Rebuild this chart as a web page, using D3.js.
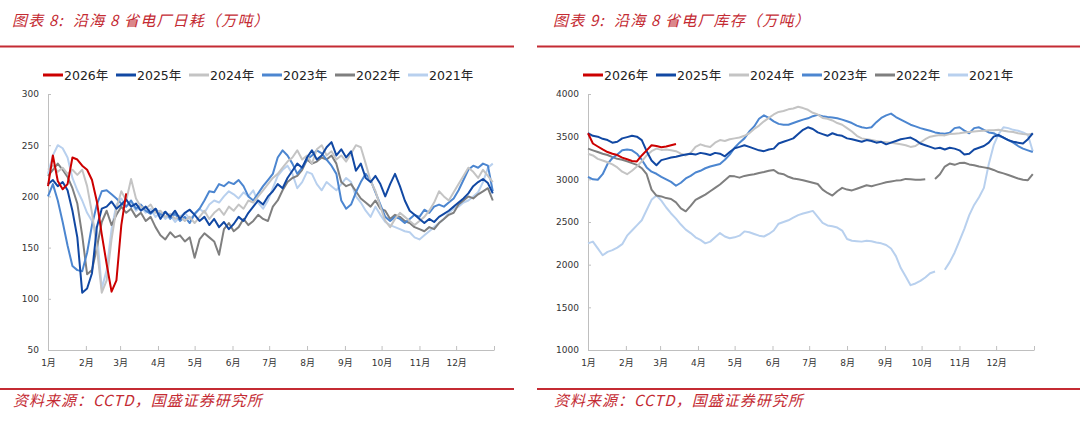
<!DOCTYPE html>
<html><head><meta charset="utf-8">
<script src="https://cdn.jsdelivr.net/npm/d3@7"></script>
<style>body{margin:0;background:#fff;}svg{display:block}</style>
</head><body>
<svg id="chart" width="1080" height="422"></svg>
<script>
// ---------------- DATA ----------------
const monthLabels = ["1月","2月","3月","4月","5月","6月","7月","8月","9月","10月","11月","12月"];
const seriesNames = ["2026年","2025年","2024年","2023年","2022年","2021年"];
const stepDays = 4; // one value every 4 days from 1 Jan
const leftTitle = "图表 8:  沿海 8 省电厂日耗（万吨）";
const rightTitle = "图表 9:  沿海 8 省电厂库存（万吨）";
const sourceText = "资料来源：CCTD，国盛证券研究所";
const leftTicks = [50,100,150,200,250,300];
const rightTicks = [1000,1500,2000,2500,3000,3500,4000];

// 日耗 (万吨)
const consume2026 = [210,240,215,207,212,238,236,230,226,216,195,163,134,107,118,172,203];
const consume2025 = [212,216,210,214,206,186,160,106,110,125,
  170,188,190,195,188,192,197,190,193,186,
  190,184,188,178,185,180,186,178,184,187,
  182,176,180,172,178,170,175,168,173,180,
  176,184,190,196,192,200,205,212,208,218,
  225,232,228,238,245,236,240,248,253,240,
  246,238,244,225,232,218,214,220,212,200,
  212,222,210,196,186,182,178,174,178,175,
  180,183,186,190,194,198,203,210,214,217,
  213,203];
const consume2024 = [226,230,224,228,222,226,221,226,210,184,
  150,106,118,158,188,205,196,217,198,190,
  188,192,184,186,180,183,178,181,176,180,
  174,180,186,178,184,188,182,190,186,192,
  188,196,194,200,206,212,218,222,228,234,
  238,245,236,240,232,246,250,240,244,236,
  240,234,242,250,248,232,215,205,190,176,
  170,178,184,180,176,172,176,180,186,194,
  205,200,196,204,212,220,228,224,218,226,
  220,214];
const consume2023 = [200,212,196,175,152,132,128,127,145,172,
  192,205,206,202,198,193,190,196,188,192,
  186,183,188,182,185,178,183,176,180,174,
  183,188,196,205,204,212,210,214,212,216,
  210,200,196,203,210,216,222,238,245,240,
  232,222,228,236,240,245,242,236,230,222,
  196,188,192,204,214,222,216,204,192,180,
  176,180,178,174,178,182,180,187,184,190,
  192,190,194,198,206,216,226,230,228,232,
  230,205];
const consume2022 = [220,226,232,226,219,208,193,162,124,128,
  150,175,186,172,182,190,184,188,180,184,
  176,180,170,162,158,165,160,162,156,160,
  140,158,164,160,156,143,168,174,166,170,
  178,172,176,182,178,176,190,196,206,214,
  218,220,226,236,232,234,238,236,240,232,
  214,210,212,205,198,194,190,196,188,186,
  178,182,180,176,174,170,168,166,170,168,
  174,178,182,184,192,196,200,198,202,205,
  208,196];
const consume2021 = [222,240,250,247,238,218,206,196,184,176,
  165,110,128,168,192,198,190,194,186,190,
  184,188,180,184,178,182,175,180,184,178,
  182,188,184,192,196,194,200,205,202,198,
  204,200,206,194,188,196,208,220,226,230,
  222,208,214,224,222,212,206,214,210,206,
  212,218,214,200,194,186,180,190,182,175,
  172,170,168,166,165,160,158,162,166,170,
  174,178,184,188,190,194,196,200,204,214,
  228,232];

// 库存 (万吨)
const stock2026 = [3540,3420,3385,3350,3320,3300,3285,3255,3235,3215,3210,3280,3340,3400,3390,3375,3385,3400,3415];
const stock2025 = [3540,3510,3500,3475,3460,3430,3440,3480,3495,3510,
  3500,3460,3330,3220,3165,3225,3240,3255,3265,3280,
  3290,3300,3290,3310,3300,3285,3310,3300,3270,3320,
  3365,3380,3400,3380,3360,3340,3330,3350,3360,3420,
  3440,3460,3480,3530,3580,3610,3590,3550,3530,3510,
  3540,3520,3510,3480,3470,3455,3440,3460,3450,3430,
  3440,3410,3430,3450,3470,3480,3490,3460,3420,3400,
  3380,3360,3370,3350,3370,3360,3340,3290,3300,3350,
  3370,3390,3430,3500,3520,3490,3460,3440,3430,3420,
  3470,3540];
const stock2024 = [3300,3280,3240,3220,3200,3175,3140,3090,3060,3100,
  3150,3210,3280,3330,3360,3345,3350,3340,3330,3300,
  3280,3310,3380,3410,3390,3380,3430,3460,3450,3470,
  3480,3490,3510,3540,3590,3630,3680,3720,3760,3790,
  3800,3820,3830,3850,3835,3815,3780,3760,3720,3710,
  3690,3660,3640,3600,3560,3510,3480,3470,3460,3450,
  3440,3435,3430,3420,3410,3400,3380,3390,3430,3470,
  3500,3510,3520,3515,3530,3535,3540,3550,3555,3560,
  3565,3570,3575,3575,3580,3570,3560,3555,3540,3530,
  3525,3535];
const stock2023 = [3030,3000,2995,3060,3180,3250,3290,3340,3350,3340,
  3300,3230,3140,3090,3065,3030,3000,2970,2925,2960,
  3010,3040,3080,3100,3130,3150,3165,3180,3230,3290,
  3370,3430,3480,3560,3620,3710,3750,3720,3680,3650,
  3640,3640,3660,3680,3700,3715,3740,3755,3740,3730,
  3725,3715,3700,3680,3660,3630,3610,3600,3610,3670,
  3720,3750,3770,3730,3700,3670,3640,3620,3600,3585,
  3570,3550,3540,3535,3545,3600,3610,3570,3540,3600,
  3610,3580,3550,3540,3510,3490,3460,3430,3390,3360,
  3340,3320];
const stock2022 = [3360,3340,3320,3300,3285,3260,3240,3230,3210,3190,
  3170,3130,3060,2880,2810,2800,2780,2770,2730,2660,
  2625,2690,2760,2790,2820,2860,2900,2940,2990,3040,
  3035,3020,3040,3050,3060,3075,3085,3100,3110,3070,
  3060,3030,3010,3000,2990,2975,2960,2945,2880,2840,
  2810,2860,2900,2880,2870,2890,2910,2930,2920,2935,
  2950,2965,2975,2985,2990,3005,3000,2995,2995,3000,
  null,3005,3060,3150,3185,3170,3190,3195,3175,3165,
  3150,3140,3130,3110,3085,3070,3050,3030,3010,2995,
  2990,3060];
const stock2021 = [2250,2270,2190,2110,2150,2170,2200,2240,2340,2400,
  2460,2520,2640,2760,2810,2750,2670,2600,2540,2470,
  2410,2370,2320,2290,2250,2270,2320,2370,2330,2310,
  2320,2340,2390,2380,2360,2340,2330,2360,2400,2480,
  2500,2520,2550,2580,2600,2615,2630,2560,2490,2460,
  2450,2435,2400,2300,2280,2275,2270,2280,2275,2260,
  2250,2230,2190,2100,1960,1860,1760,1780,1810,1850,
  1900,1920,null,1940,2030,2140,2280,2420,2580,2700,
  2790,2900,3180,3400,3530,3610,3600,3580,3570,3550,
  3520,3330];

const colors = ["#cc0000","#1148a3","#c4c4c4","#4c86d0","#7f7f7f","#b8d0ee"];

// ---------------- DRAW ----------------
const svg = d3.select("#chart");
const red = "#c42b33";
const cjk = "'Noto Sans CJK SC', sans-serif";
const numFont = "'DejaVu Sans', 'Noto Sans CJK SC', sans-serif";
const yearStart = new Date(2025,0,1), yearEnd = new Date(2026,0,1);
const dateOf = i => new Date(2025,0,1 + i*stepDays);

function panel(opt){
  const g = svg.append("g");
  // title
  g.append("text").attr("x",opt.titleX).attr("y",26)
    .attr("fill",red).attr("font-family",cjk).attr("font-size",15)
    .attr("letter-spacing",1.2)
    .attr("font-style","italic").style("white-space","pre").text(opt.title);
  g.append("rect").attr("x",opt.ruleX0).attr("y",45.5).attr("width",opt.ruleX1-opt.ruleX0).attr("height",2).attr("fill",red);
  g.append("rect").attr("x",opt.ruleX0).attr("y",388).attr("width",opt.ruleX1-opt.ruleX0).attr("height",2).attr("fill",red);
  g.append("text").attr("x",opt.titleX+1).attr("y",406)
    .attr("fill",red).attr("font-family",cjk).attr("font-size",15)
    .attr("letter-spacing",1)
    .attr("font-style","italic").text(sourceText);

  const x = d3.scaleTime().domain([yearStart,yearEnd]).range([opt.x0,opt.x1]);
  const y = d3.scaleLinear().domain(opt.yDomain).range([350,94]);

  // axes
  const xa = g.append("g").attr("transform","translate(0,350)")
    .call(d3.axisBottom(x).tickValues(d3.timeMonth.range(yearStart,d3.timeDay.offset(yearEnd,1)))
      .tickSizeInner(-4).tickSizeOuter(0).tickPadding(10)
      .tickFormat((d,i)=> i<12 ? monthLabels[i] : ""));
  const ya = g.append("g").attr("transform",`translate(${opt.x0},0)`)
    .call(d3.axisLeft(y).tickValues(opt.ticks).tickFormat(d3.format("d"))
      .tickSizeInner(-3).tickSizeOuter(0).tickPadding(9));
  [xa,ya].forEach(a=>{
    a.selectAll("path,line").attr("stroke","#bfbfbf");
    a.selectAll("text").attr("fill","#333").attr("font-family",numFont).attr("font-size",9);
  });

  // lines (oldest first so newest on top)
  const line = d3.line().defined(v=>v!=null).x((v,i)=>x(dateOf(i))).y(v=>y(v));
  for(let k=opt.data.length-1;k>=0;k--){
    g.append("path").datum(opt.data[k]).attr("d",line).attr("fill","none")
      .attr("stroke",colors[k]).attr("stroke-width",2).attr("stroke-linejoin","round");
  }

  // legend
  const lg = g.append("g");
  seriesNames.forEach((n,k)=>{
    const lx = opt.legendX + k*73;
    lg.append("line").attr("x1",lx).attr("x2",lx+20).attr("y1",75).attr("y2",75)
      .attr("stroke",colors[k]).attr("stroke-width",3);
    lg.append("text").attr("x",lx+21).attr("y",79.5).attr("fill","#222")
      .attr("font-family",numFont).attr("font-size",12.5).text(n);
  });
}

panel({title:leftTitle,titleX:12,ruleX0:0,ruleX1:514,x0:48,x1:494,
  yDomain:[50,300],ticks:leftTicks,legendX:43,
  data:[consume2026,consume2025,consume2024,consume2023,consume2022,consume2021]});
panel({title:rightTitle,titleX:553,ruleX0:537,ruleX1:1080,x0:588,x1:1034,
  yDomain:[1000,4000],ticks:rightTicks,legendX:583,
  data:[stock2026,stock2025,stock2024,stock2023,stock2022,stock2021]});
</script>
</body></html>
